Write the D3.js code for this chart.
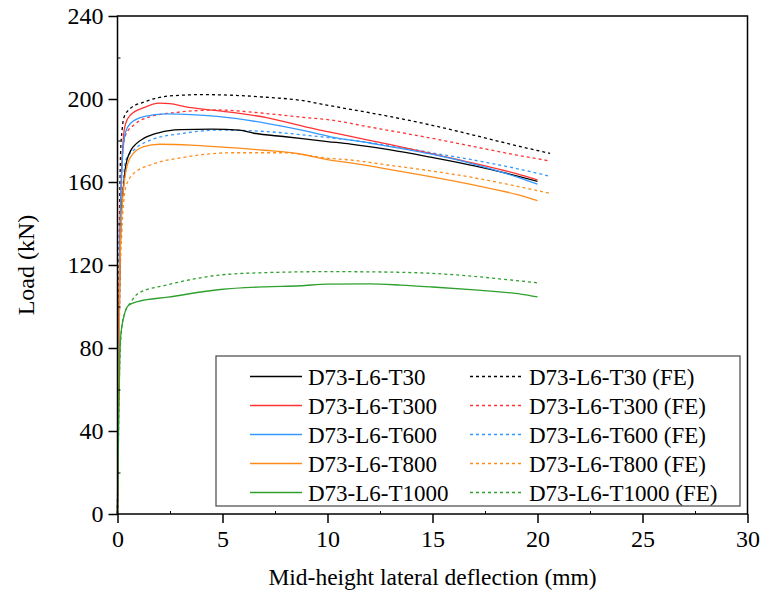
<!DOCTYPE html>
<html>
<head>
<meta charset="utf-8">
<script src="https://cdn.jsdelivr.net/npm/d3@7"></script>
<style>
  body { margin: 0; background: #fff; }
  svg text { font-family: "Liberation Serif", "Times New Roman", Times, serif; fill: #000; }
</style>
</head>
<body>
<svg id="chart" width="764" height="601"></svg>
<script>
// deflection (mm), load (kN)
var t30Test = [[0,0],[0.05,60],[0.1,110],[0.18,145],[0.27,156],[0.38,167],[0.62,175],[0.9,178.5],[1.25,181],[2,183.8],[3,185.2],[4.5,185.5],[5.8,185],[6.5,183.5],[8,181.8],[10,179.5],[11.1,178.3],[13,175.5],[14.9,172],[17,167.8],[18.5,164.3],[20,160.3]]
var t300Test = [[0,0],[0.05,70],[0.1,125],[0.2,167],[0.27,180],[0.38,188],[0.62,192.3],[1.25,195.8],[2,198],[2.5,197.8],[3.2,196.3],[4.75,194.4],[7.1,191],[9,186.5],[11.1,182],[13,178],[14.9,173.8],[17,169],[19,164],[20,161]]
var t600Test = [[0,0],[0.05,65],[0.1,118],[0.24,172],[0.38,184],[0.62,188.3],[1.25,191.5],[2.3,192.8],[3.5,192.5],[4.75,191.6],[7.1,188.3],[9,184.5],[10.14,181.8],[12,178.8],[14.9,173.5],[17,168.5],[19,162.5],[20,159]]
var t800Test = [[0,0],[0.05,55],[0.1,105],[0.2,145],[0.38,164],[0.62,172],[1.25,177],[2,178.2],[3.5,177.8],[5,176.8],[7,175.3],[8.7,173.5],[10,170.8],[11.1,169.2],[13,166],[14.9,162.6],[17,158.5],[19,154],[20,151]]
var t1000Test = [[0,0],[0.05,40],[0.1,70],[0.14,84],[0.3,95],[0.54,100.7],[1,102.5],[2.4,104.5],[4.9,108.2],[7,109.5],[8.7,110],[10,110.8],[12,110.9],[13.5,110.3],[15,109.4],[17,108],[18.2,107],[19.2,106],[20,104.6]]

var t30FE = [[0,0],[0.05,85],[0.1,145],[0.15,175],[0.22,185],[0.3,191],[0.62,195.5],[1.25,198.5],[2,200.8],[3,201.8],[4,202.1],[5.5,201.8],[7,200.9],[8.7,199.4],[10.1,196.8],[11.1,195],[13,191.5],[14.9,187.5],[17,182.5],[19,177.5],[20.6,173.8]]
var t300FE = [[0,0],[0.05,75],[0.1,130],[0.25,175],[0.4,183],[0.78,187.5],[1.57,191.5],[2.85,193.6],[4.75,194.7],[7.1,193],[9,191],[10.14,189.9],[12,186.5],[14.9,181.2],[17,177],[19,173],[20.5,170.3]]
var t600FE = [[0,0],[0.05,60],[0.1,105],[0.2,145],[0.4,170.6],[0.78,175.4],[1.57,180.2],[3.16,183.5],[4.75,185],[7.1,184.3],[9,182.5],[11.1,180.2],[13,177.5],[14.9,174.2],[17,170.5],[19,166.5],[20.5,163]]
var t800FE = [[0,0],[0.05,55],[0.1,100],[0.2,135],[0.4,157.7],[0.78,164.2],[1.57,168.2],[3.16,171.9],[5.56,174.1],[7.9,174.1],[10.1,171.4],[11.1,170.6],[13,168],[14.9,165.4],[17,162],[19,158],[20.6,154.5]]
var t1000FE = [[0,0],[0.05,40],[0.1,70],[0.2,90],[0.35,97],[0.6,101.5],[1,106.4],[2.37,110.4],[4.9,115.2],[7,116.3],[10.14,116.8],[12,116.7],[14.9,116],[17,114.5],[18.4,113.1],[20.1,111.3]]

var seriesNames = ["D73-L6-T30", "D73-L6-T300", "D73-L6-T600", "D73-L6-T800", "D73-L6-T1000"]
var seriesColors = ["#000000", "#ff3333", "#3399ff", "#ff8c1a", "#2ea02e"]
var testData = [t30Test, t300Test, t600Test, t800Test, t1000Test]
var feData = [t30FE, t300FE, t600FE, t800FE, t1000FE]

var xTicks = [0, 5, 10, 15, 20, 25, 30]
var yTicks = [0, 40, 80, 120, 160, 200, 240]
var xMinor = [2.5, 7.5, 12.5, 17.5, 22.5, 27.5]
var yMinor = [20, 60, 100, 140, 180, 220]

var serif = "'Liberation Serif', 'Times New Roman', Times, serif"

var dimensions = {
    width: 764,
    height: 601,
    margin: { top: 16, bottom: 87, left: 117.5, right: 16.5 }
}

var svg = d3.select("#chart")

var xScale = d3.scaleLinear()
    .domain([0, 30])
    .range([dimensions.margin.left, dimensions.width - dimensions.margin.right])

var yScale = d3.scaleLinear()
    .domain([0, 240])
    .range([dimensions.height - dimensions.margin.bottom, dimensions.margin.top])

var line = d3.line()
    .x(d => xScale(d[0]))
    .y(d => yScale(d[1]))
    .curve(d3.curveMonotoneX)

// FE curves (dashed) first, tests on top
feData.forEach(function(s, i) {
    svg.append("path")
        .datum(s)
        .attr("d", line)
        .attr("fill", "none")
        .attr("stroke", seriesColors[i])
        .attr("stroke-width", 1.3)
        .attr("stroke-dasharray", "3,3")
})
testData.forEach(function(s, i) {
    svg.append("path")
        .datum(s)
        .attr("d", line)
        .attr("fill", "none")
        .attr("stroke", seriesColors[i])
        .attr("stroke-width", 1.3)
})

// frame
var x0 = xScale(0), x1 = xScale(30), y0 = yScale(0), y1 = yScale(240)
svg.append("rect")
    .attr("x", x0).attr("y", y1)
    .attr("width", x1 - x0).attr("height", y0 - y1)
    .attr("fill", "none")
    .attr("stroke", "#000")
    .attr("stroke-width", 1.5)

var xAxisGen = d3.axisBottom(xScale).tickValues(xTicks).tickSizeInner(9).tickSizeOuter(0).tickPadding(7)
var xAxis = svg.append("g")
    .attr("transform", `translate(0,${y0})`)
    .attr("font-family", serif)
    .call(xAxisGen)
xAxis.attr("font-family", serif).attr("font-size", 24)
xAxis.select(".domain").remove()
xAxis.selectAll("line").attr("stroke-width", 1.5)

var yAxisGen = d3.axisLeft(yScale).tickValues(yTicks).tickSizeInner(9).tickSizeOuter(0).tickPadding(5)
var yAxis = svg.append("g")
    .attr("transform", `translate(${x0},0)`)
    .call(yAxisGen)
yAxis.attr("font-family", serif).attr("font-size", 24)
yAxis.select(".domain").remove()
yAxis.selectAll("line").attr("stroke-width", 1.5)

// minor ticks, inward
var xMinorAxis = svg.append("g")
    .attr("transform", `translate(0,${y0})`)
    .call(d3.axisBottom(xScale).tickValues(xMinor).tickSize(-3).tickFormat(""))
xMinorAxis.select(".domain").remove()

var yMinorAxis = svg.append("g")
    .attr("transform", `translate(${x0},0)`)
    .call(d3.axisLeft(yScale).tickValues(yMinor).tickSize(-3).tickFormat(""))
yMinorAxis.select(".domain").remove()

// axis titles
svg.append("text")
    .attr("x", (x0 + x1) / 2)
    .attr("y", 585)
    .attr("text-anchor", "middle")
    .attr("font-family", serif)
    .attr("font-size", 23.5)
    .text("Mid-height lateral deflection (mm)")

svg.append("text")
    .attr("transform", `translate(34,${(y0 + y1) / 2}) rotate(-90)`)
    .attr("text-anchor", "middle")
    .attr("font-family", serif)
    .attr("font-size", 24)
    .text("Load (kN)")

// legend
var legend = svg.append("g")
    .attr("font-family", serif)
    .attr("font-size", 23)

legend.append("rect")
    .attr("x", 216)
    .attr("y", 356)
    .attr("width", 524)
    .attr("height", 150)
    .attr("fill", "#fff")
    .attr("stroke", "#555")
    .attr("stroke-width", 1.3)

seriesNames.forEach(function(name, i) {
    var ly = 376.5 + i * 29
    legend.append("line")
        .attr("x1", 250).attr("x2", 302)
        .attr("y1", ly).attr("y2", ly)
        .attr("stroke", seriesColors[i])
        .attr("stroke-width", 1.3)
    legend.append("text")
        .attr("x", 308)
        .attr("y", ly + 8)
        .text(name)
    legend.append("line")
        .attr("x1", 470).attr("x2", 522)
        .attr("y1", ly).attr("y2", ly)
        .attr("stroke", seriesColors[i])
        .attr("stroke-width", 1.3)
        .attr("stroke-dasharray", "3,3")
    legend.append("text")
        .attr("x", 529)
        .attr("y", ly + 8)
        .text(name + " (FE)")
})
</script>
</body>
</html>
